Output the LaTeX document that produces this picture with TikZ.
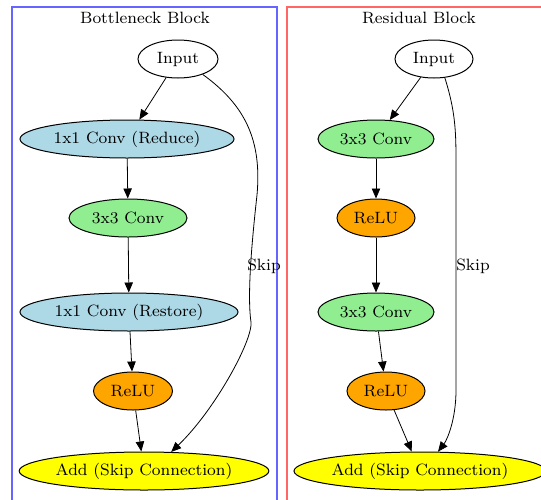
\documentclass[tikz,border=0pt]{standalone}
\usetikzlibrary{shapes.geometric,arrows.meta}

\definecolor{convblue}{HTML}{ADD8E6}
\definecolor{convgreen}{HTML}{90EE90}
\definecolor{reluorange}{HTML}{FFA500}
\definecolor{addyellow}{HTML}{FFFF00}
\definecolor{boxblue}{HTML}{6666FF}
\definecolor{boxred}{HTML}{FF6666}

\tikzset{
  txt/.style={font=\fontsize{8.2}{9.8}\selectfont},
  layer/.style={txt, ellipse, draw, line width=0.5pt, inner sep=0pt, minimum height=19pt},
}

\begin{document}
\begin{tikzpicture}[x=0.5pt, y=-0.5pt, >={Triangle[length=5pt,width=4.2pt]}]
  \useasboundingbox (0,0) rectangle (541,499);
  \clip (0,0) rectangle (541,499);

  % Cluster frames
  \draw[boxblue, line width=0.6pt] (12,7) rectangle (277,520);
  \draw[boxred, line width=0.6pt] (287,7) rectangle (570,520);
  \node[txt] (titleL) at (145,18) {Bottleneck Block};
  \node[txt] (titleR) at (419,18) {Residual Block};

  % Bottleneck nodes
  \node[layer, minimum width=40pt] (inL) at (178,59) {Input};
  \node[layer, fill=convblue, minimum width=107pt] (reduce) at (127,139) {1x1 Conv (Reduce)};
  \node[layer, fill=convgreen, minimum width=59pt] (convL) at (128,218) {3x3 Conv};
  \node[layer, fill=convblue, minimum width=109pt] (restore) at (129,312) {1x1 Conv (Restore)};
  \node[layer, fill=reluorange, minimum width=39.5pt] (reluL) at (133,391) {ReLU};
  \node[layer, fill=addyellow, minimum width=124pt] (addL) at (144,471) {Add (Skip Connection)};

  % Residual nodes
  \node[layer, minimum width=39pt] (inR) at (434,59) {Input};
  \node[layer, fill=convgreen, minimum width=58pt] (convA) at (376,139) {3x3 Conv};
  \node[layer, fill=reluorange, minimum width=39pt] (reluA) at (376,218) {ReLU};
  \node[layer, fill=convgreen, minimum width=58pt] (convB) at (376,312) {3x3 Conv};
  \node[layer, fill=reluorange, minimum width=39pt] (reluB) at (386,391) {ReLU};
  \node[layer, fill=addyellow, minimum width=126pt] (addR) at (420,471) {Add (Skip Connection)};

  % Main paths
  \draw[->] (inL) -- (reduce);
  \draw[->] (reduce) -- (convL);
  \draw[->] (convL) -- (restore);
  \draw[->] (restore) -- (reluL);
  \draw[->] (reluL) -- (addL);
  \draw[->] (inR) -- (convA);
  \draw[->] (convA) -- (reluA);
  \draw[->] (reluA) -- (convB);
  \draw[->] (convB) -- (reluB);
  \draw[->] (reluB) -- (addR);

  % Skip connections
  \draw[->] (inL.-32) .. controls (245,105) and (262,140) .. (257,195)
    .. controls (252,240) and (247,295) .. (251,322)
    .. controls (253,340) and (215,410) .. (addL.35);
  \node[txt] (skipL) at (264,266) {Skip};
  \draw[->] (inR.-60) .. controls (455,110) and (456,130) .. (456,160)
    -- (456,390) .. controls (456,420) and (447,440) .. (addR.47);
  \node[txt] (skipR) at (473,266) {Skip};
\end{tikzpicture}
\end{document}
